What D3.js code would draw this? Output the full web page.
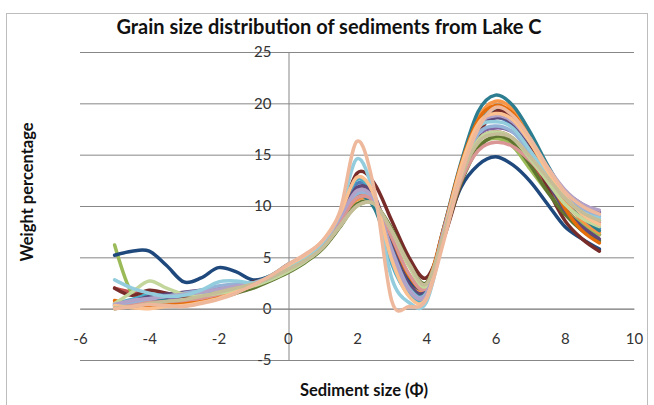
<!DOCTYPE html>
<html>
<head>
<meta charset="utf-8">
<script src="https://cdn.jsdelivr.net/npm/d3@7"></script>
<style>
  html, body { margin: 0; padding: 0; background: #fff; }
  svg { display: block; font-family: Lato, "Open Sans", sans-serif; }
</style>
</head>
<body>
<svg id="chart" width="654" height="405"></svg>
<script>
// Grain size classes (phi units) at which the weight percentages were measured
const phi = [-5, -4.5, -4, -3.5, -3, -2.5, -2, -1.5, -1, -0.5, 0, 0.5, 1, 1.5, 2, 2.5, 3, 3.5, 4, 4.5, 5, 5.5, 6, 6.5, 7, 7.5, 8, 8.5, 9];

// Axis ticks
const xTicks = [-6, -4, -2, 0, 2, 4, 6, 8, 10];
const yTicks = [-5, 0, 5, 10, 15, 20, 25];

// One weight-percentage series per sample, in drawing order
const s1  = [0.4,0.8,1.2,1.0,0.8,1.2,1.8,2.2,2.4,3.0,4.0,5.0,6.2,8.8,12.2,10.8,5.4,1.9,1.6,7.8,13.4,17.4,18.6,17.8,15.4,12.6,10.4,8.8,7.8];
const s2  = [2.0,1.6,1.4,1.2,1.0,1.1,1.5,2.0,2.4,3.0,3.8,4.8,6.0,8.6,11.6,10.6,6.4,2.8,2.0,7.2,12.8,16.4,17.2,16.6,14.4,12.0,9.8,8.2,7.2];
const s3  = [6.2,1.5,1.2,0.8,0.9,1.0,1.3,1.8,2.2,2.9,3.8,4.8,6.0,8.2,10.0,10.2,7.6,4.2,2.2,7.0,12.6,15.8,16.6,15.8,13.6,11.4,9.6,8.2,7.2];
const s4  = [0.2,0.4,0.8,0.9,1.0,1.2,1.6,2.0,2.4,3.0,3.9,4.8,6.1,8.6,11.0,10.4,6.0,2.4,1.9,7.4,13.0,16.8,17.6,17.2,15.6,13.4,11.4,10.2,9.4];
const s5  = [0.5,0.9,1.4,1.3,1.2,1.4,1.9,2.2,2.5,3.1,4.1,5.1,6.4,9.0,12.6,10.6,4.4,1.4,1.2,7.6,13.8,18.2,19.4,18.6,16.0,13.2,10.8,9.4,8.6];
const s6  = [0.6,0.3,0.2,0.3,0.4,0.7,1.1,1.7,2.3,3.0,4.0,4.9,6.1,8.4,10.6,10.3,6.8,3.0,2.0,7.6,14.0,18.6,20.2,19.4,16.8,13.6,10.6,8.6,7.4];
const s7  = [5.2,5.6,5.6,4.2,2.6,3.0,4.0,3.6,2.8,3.2,4.3,5.1,6.4,8.6,11.5,10.0,6.2,2.8,2.3,7.2,11.8,14.0,14.8,14.0,12.4,10.2,8.0,6.8,5.8];
const s8  = [2.0,1.3,1.8,1.5,1.2,1.0,1.4,2.0,2.6,3.0,3.6,4.6,6.0,8.8,13.2,12.2,8.6,5.0,3.0,6.8,12.2,16.8,19.2,18.6,16.0,11.8,8.6,6.8,5.6];
const s9  = [0.0,0.3,0.6,0.5,0.4,0.6,1.0,1.5,2.0,2.7,3.5,4.5,5.8,7.9,10.2,10.2,7.8,4.4,2.5,7.0,12.2,15.6,16.8,16.2,14.0,11.4,9.2,7.6,6.6];
const s10 = [0.3,0.7,1.2,1.4,1.6,1.8,2.0,2.2,2.5,3.1,4.0,4.9,6.2,8.8,11.8,11.0,6.2,2.4,1.8,7.6,13.4,17.6,18.6,18.0,15.4,12.4,9.6,8.0,6.8];
const s11 = [0.3,0.6,1.0,0.8,0.6,0.8,1.2,1.8,2.5,3.2,4.2,5.1,6.4,8.8,11.0,9.8,5.2,2.0,1.6,7.8,14.2,19.2,20.8,19.8,17.2,14.0,11.2,9.0,7.6];
const s12 = [0.8,0.4,0.3,0.4,0.5,0.8,1.2,1.8,2.4,3.1,4.0,5.0,6.3,8.6,10.8,10.5,7.0,3.2,2.2,7.8,14.0,18.4,19.8,19.0,16.4,13.0,9.8,7.6,6.4];
const s13 = [0.2,0.5,0.9,1.2,1.5,1.8,2.2,2.4,2.5,3.0,3.9,4.8,6.1,8.6,11.2,10.5,5.8,2.0,1.5,7.4,13.2,17.0,17.8,17.2,15.2,13.2,11.2,9.8,9.0];
const s14 = [0.1,0.3,0.6,0.7,0.8,1.0,1.4,1.9,2.3,2.9,3.8,4.7,6.0,8.4,10.8,10.4,7.0,3.4,2.0,7.0,12.4,15.4,16.2,15.8,14.4,12.6,10.8,9.4,8.4];
const s15 = [0.5,1.6,2.7,2.0,1.4,1.3,1.5,1.8,2.2,2.8,3.6,4.6,5.9,8.0,10.0,10.2,7.6,4.2,2.2,7.0,12.8,16.4,17.2,16.6,14.6,12.4,10.2,8.8,8.0];
const s16 = [0.4,0.8,1.0,1.2,1.4,1.6,1.9,2.2,2.5,3.1,4.0,4.9,6.3,8.8,11.5,10.6,5.6,1.8,1.4,7.6,13.6,17.8,18.8,18.2,16.2,13.8,11.6,10.2,9.6];
const s17 = [2.8,2.0,1.5,1.2,1.3,1.8,2.6,2.7,2.5,3.0,4.0,5.0,6.4,9.2,14.6,11.0,3.0,0.6,0.6,7.0,13.6,17.6,18.2,17.6,15.4,13.0,10.8,9.4,8.8];
const s18 = [0.3,0.1,0.0,0.2,0.3,0.6,1.0,1.6,2.3,3.1,4.2,5.2,6.6,9.2,12.8,11.0,4.8,1.2,1.0,7.2,13.8,18.0,19.0,18.4,16.2,13.4,11.0,9.2,8.2];
const s19 = [0.1,0.2,0.5,0.7,0.9,1.2,1.6,2.0,2.4,3.0,3.8,4.7,5.9,8.0,10.0,10.2,7.6,4.4,2.4,7.2,12.8,16.2,17.0,16.6,14.8,12.8,10.8,9.4,8.6];
const s20 = [0.0,0.2,0.4,0.3,0.2,0.5,0.9,1.5,2.3,3.2,4.3,5.3,6.6,9.4,16.3,11.6,0.8,0.2,0.9,6.5,13.0,17.5,19.6,18.8,16.6,13.8,11.4,10.0,9.2];

const seriesValues = [s1, s2, s3, s4, s5, s6, s7, s8, s9, s10, s11, s12, s13, s14, s15, s16, s17, s18, s19, s20];
const seriesColors = [
  "#4F81BD", "#C0504D", "#9BBB59", "#8064A2", "#4BACC6", "#F79646",
  "#1F497D", "#772C2A", "#5F7530", "#5F497A", "#2C7D8F", "#E46C0A",
  "#95B3D7", "#D99694", "#C3D69B", "#B3A2C7", "#93CDDD", "#FAC090",
  "#C4BD97", "#EDB89C"
];

const svg = d3.select("#chart");

// Outer chart frame
svg.append("rect")
  .attr("x", 6.5).attr("y", 13.5)
  .attr("width", 641).attr("height", 392)
  .attr("fill", "none")
  .attr("stroke", "#bdbdbd")
  .attr("stroke-width", 1);

const x = d3.scaleLinear().domain([-6, 10]).range([80, 634]);
const y = d3.scaleLinear().domain([-5, 25]).range([360, 52]);

const gridColor = "#878787";
const tickText = d => String(d);

// Horizontal gridlines
svg.append("g")
  .attr("transform", `translate(${x(-6)},0)`)
  .call(d3.axisLeft(y).tickValues(yTicks).tickSize(-(x(10) - x(-6))).tickFormat(""))
  .call(g => g.select(".domain").remove())
  .call(g => g.selectAll(".tick line").attr("stroke", gridColor).attr("stroke-width", 1));

// Vertical axis through x = 0
const yAxis = svg.append("g")
  .attr("transform", `translate(${Math.round(x(0)) + 0.5},0)`)
  .call(d3.axisLeft(y).tickValues(yTicks).tickSize(0).tickPadding(17).tickFormat(tickText));
yAxis.select(".domain").attr("stroke", gridColor);
yAxis.selectAll("text")
  .attr("fill", "#333")
  .style("font-size", "15px")
  .style("font-family", "Lato, sans-serif");

// Horizontal axis labels
const xAxis = svg.append("g")
  .attr("transform", `translate(0,${y(0)})`)
  .call(d3.axisBottom(x).tickValues(xTicks).tickSize(0).tickPadding(25).tickFormat(tickText));
xAxis.select(".domain").attr("stroke", gridColor);
xAxis.selectAll("text")
  .attr("fill", "#333")
  .style("font-size", "15px")
  .style("font-family", "Lato, sans-serif");

// Smoothed sample curves
const line = d3.line()
  .x((d, i) => x(phi[i]))
  .y(d => y(d))
  .curve(d3.curveCardinal.tension(0));

svg.append("g")
  .selectAll("path")
  .data(seriesValues)
  .join("path")
  .attr("d", line)
  .attr("fill", "none")
  .attr("stroke", (d, i) => seriesColors[i])
  .attr("stroke-width", 3.5)
  .attr("stroke-linejoin", "round")
  .attr("stroke-linecap", "round");

// Titles
svg.append("text")
  .attr("x", 329).attr("y", 34)
  .attr("text-anchor", "middle")
  .style("font-size", "20px")
  .style("font-weight", "bold")
  .attr("fill", "#111")
  .text("Grain size distribution of sediments from Lake C");

svg.append("text")
  .attr("transform", "translate(33,192) rotate(-90)")
  .attr("text-anchor", "middle")
  .style("font-size", "16.5px")
  .style("font-weight", "bold")
  .attr("fill", "#111")
  .text("Weight percentage");

svg.append("text")
  .attr("x", 364).attr("y", 396)
  .attr("text-anchor", "middle")
  .style("font-size", "16.5px")
  .style("font-weight", "bold")
  .attr("fill", "#111")
  .text("Sediment size (Φ)");
</script>
</body>
</html>
